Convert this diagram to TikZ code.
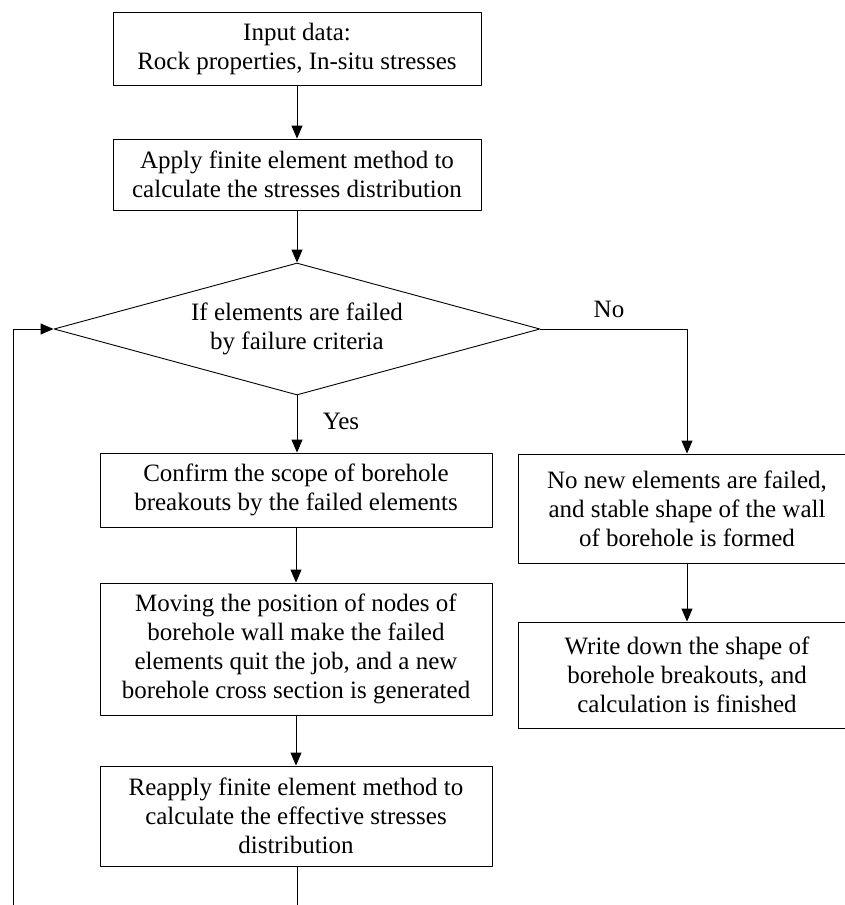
\documentclass[tikz,border=0pt]{standalone}
\usepackage{fontspec}
\setmainfont{Liberation Serif}
\usetikzlibrary{arrows.meta,shapes.geometric}
\begin{document}
\begin{tikzpicture}[x=1pt,y=-1pt,line join=round, >={Triangle[length=13pt,width=11pt]},
    line width=.9pt, font=\fontsize{25pt}{29pt}\selectfont,
    box/.style={draw, align=center, inner sep=0pt},
    decide/.style={draw, diamond, aspect=3.68, align=center, inner sep=0pt,
        minimum width=486pt, minimum height=132pt}]
                \useasboundingbox (0,0) rectangle (845,905);
                \clip (0,0) rectangle (845,905);
                \node[box, minimum width=368pt, minimum height=73pt] (input) at (297,48.5) {Input data:\\Rock properties, In-situ stresses};
                \node[box, minimum width=368pt, minimum height=71pt] (fem) at (297,174.5) {Apply finite element method to\\calculate the stresses distribution};
                \node[decide] (check) at (297,329) {If elements are failed\\by failure criteria};
                \node[box, minimum width=392pt, minimum height=74pt] (scope) at (296,490) {Confirm the scope of borehole\\breakouts by the failed elements};
                \node[box, minimum width=392pt, minimum height=132pt] (move) at (296,649) {Moving the position of nodes of\\borehole wall make the failed\\elements quit the job, and a new\\borehole cross section is generated};
                \node[box, minimum width=392pt, minimum height=100pt] (reapply) at (296,816) {Reapply finite element method to\\calculate the effective stresses\\distribution};
                \node[box, minimum width=338pt, minimum height=109pt] (stable) at (687,508.5) {No new elements are failed,\\and stable shape of the wall\\of borehole is formed};
                \node[box, minimum width=338pt, minimum height=106pt] (finish) at (687,675) {Write down the shape of\\borehole breakouts, and\\calculation is finished};
                \node (no) at (609,309) {No};
                \node (yes) at (341,421) {Yes};
                \coordinate (bot) at (297,905);
                \coordinate (loop) at (13,905);
                \draw[->] (input) -- (fem);
                \draw[->] (fem) -- (check);
                \draw[->] (check) -- (check |- scope.north);
                \draw[->] (scope) -- (move);
                \draw[->] (move) -- (reapply);
                \draw (reapply.south -| bot) -- (bot);
                \draw[->] (loop) |- (check.west);
                \draw[->] (check.east) -| (stable);
                \draw[->] (stable) -- (finish);
            \end{tikzpicture}
\end{document}
